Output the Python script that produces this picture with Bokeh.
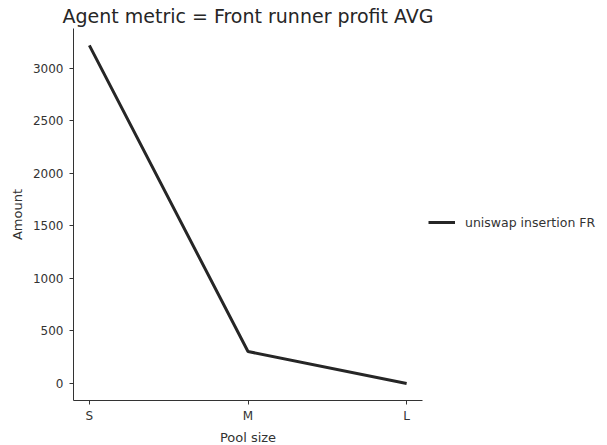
from bokeh.plotting import figure
from bokeh.models import Range1d, FixedTicker, Legend, LegendItem
from bokeh.embed import file_html
from bokeh.resources import INLINE

pool_sizes = ["S", "M", "L"]
fr_profit = [3215, 302, -3]
series_name = "uniswap insertion FR"
y_ticks = [0, 500, 1000, 1500, 2000, 2500, 3000]

xs = list(range(len(pool_sizes)))

p = figure(frame_width=349, frame_height=372, output_backend="svg", toolbar_location=None,
           x_range=Range1d(-0.1, 2.1), y_range=Range1d(-164, 3376),
           min_border_left=73, min_border_right=10, min_border_top=0, min_border_bottom=0)

p.title.text = "Agent metric = Front runner profit AVG"
p.title.text_font = "DejaVu Sans"
p.title.text_font_size = "19px"
p.title.text_font_style = "normal"
p.title.text_color = "#262626"
p.title.align = "center"
p.title.standoff = 4

r = p.line(xs, fr_profit, line_color="#262626", line_width=3)

p.grid.visible = False
p.outline_line_color = None
p.background_fill_color = "white"
p.border_fill_color = "white"

p.xaxis.ticker = FixedTicker(ticks=xs)
p.xaxis.major_label_overrides = {i: s for i, s in enumerate(pool_sizes)}
p.yaxis.ticker = FixedTicker(ticks=y_ticks)
p.xaxis.axis_label = "Pool size"
p.yaxis.axis_label = "Amount"

for ax in (p.xaxis[0], p.yaxis[0]):
    ax.axis_line_color = "#333333"
    ax.axis_line_width = 1
    ax.major_tick_line_color = "#333333"
    ax.major_tick_out = 4
    ax.major_tick_in = 0
    ax.minor_tick_line_color = None
    ax.major_label_text_font = "DejaVu Sans"
    ax.major_label_text_font_size = "12px"
    ax.major_label_text_color = "#333333"
    ax.axis_label_text_font = "DejaVu Sans"
    ax.axis_label_text_font_size = "13px"
    ax.axis_label_text_font_style = "normal"
    ax.axis_label_text_color = "#333333"
p.xaxis.major_label_standoff = 4
p.xaxis.axis_label_standoff = 4
p.yaxis.major_label_standoff = 6
p.yaxis.axis_label_standoff = 5
p.yaxis.major_label_orientation = "horizontal"

legend = Legend(items=[LegendItem(label=series_name, renderers=[r])],
                location=(6, 168), border_line_color=None, background_fill_alpha=0,
                padding=0, margin=0, glyph_width=27, glyph_height=20, label_standoff=10,
                label_text_font="DejaVu Sans", label_text_font_size="12.5px",
                label_text_color="#333333")
p.add_layout(legend, "right")

open("out.html", "w").write(file_html(p, INLINE))
